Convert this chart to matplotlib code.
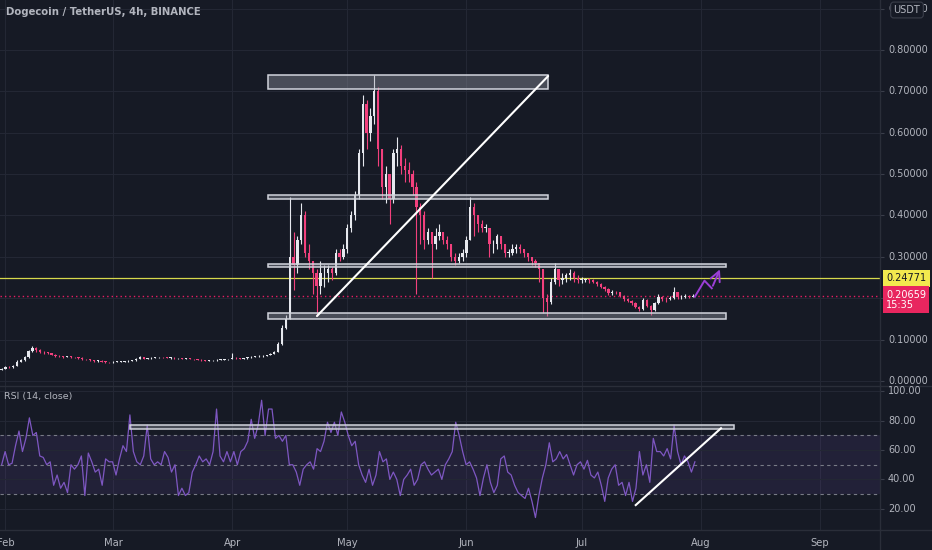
import datetime as dt
import numpy as np
import matplotlib
matplotlib.use("Agg")
import matplotlib.pyplot as plt
from matplotlib.patches import Rectangle
from matplotlib.lines import Line2D

# ---------------- data (daily candles, day 0 = 2021-02-01) ----------------
first_day = -1          # Jan 31
first_open = 0.027
close = [0.029,
    # Feb
    0.034, 0.033, 0.037, 0.047, 0.050, 0.057, 0.072, 0.080, 0.074, 0.071, 0.069, 0.067, 0.064, 0.061,
    0.060, 0.058, 0.059, 0.058, 0.057, 0.056, 0.053, 0.052, 0.050, 0.049, 0.049, 0.047, 0.046, 0.045,
    # Mar
    0.046, 0.046, 0.047, 0.048, 0.049, 0.050, 0.054, 0.057, 0.054, 0.055, 0.056, 0.057, 0.058, 0.057,
    0.056, 0.056, 0.055, 0.055, 0.054, 0.054, 0.053, 0.052, 0.051, 0.050, 0.049, 0.050, 0.050, 0.051,
    0.051, 0.052, 0.053,
    # Apr
    0.056, 0.055, 0.054, 0.055, 0.057, 0.059, 0.060, 0.060, 0.061, 0.063, 0.066, 0.071, 0.090, 0.128,
    0.150, 0.300, 0.280, 0.340, 0.400, 0.310, 0.290, 0.260, 0.230, 0.260, 0.260, 0.270, 0.260, 0.310,
    0.300, 0.320,
    # May
    0.370, 0.400, 0.450, 0.550, 0.670, 0.600, 0.640, 0.700, 0.560, 0.470, 0.500, 0.440, 0.550, 0.560,
    0.520, 0.510, 0.500, 0.470, 0.420, 0.400, 0.340, 0.360, 0.330, 0.350, 0.360, 0.340, 0.330, 0.300,
    0.290, 0.300, 0.310,
    # Jun
    0.340, 0.420, 0.400, 0.380, 0.370, 0.370, 0.330, 0.330, 0.350, 0.330, 0.310, 0.310, 0.320, 0.325,
    0.320, 0.310, 0.300, 0.290, 0.285, 0.270, 0.200, 0.190, 0.240, 0.270, 0.245, 0.250, 0.255, 0.260,
    0.250, 0.245,
    # Jul
    0.245, 0.245, 0.244, 0.240, 0.235, 0.228, 0.222, 0.212, 0.215, 0.214, 0.205, 0.198, 0.193, 0.188,
    0.180, 0.173, 0.195, 0.182, 0.172, 0.188, 0.204, 0.198, 0.197, 0.200, 0.215, 0.202, 0.204, 0.205,
    0.203, 0.20659]

high = [0.031,
    0.036, 0.036, 0.039, 0.050, 0.053, 0.060, 0.076, 0.085, 0.083, 0.077, 0.073, 0.071, 0.068, 0.065,
    0.063, 0.061, 0.061, 0.060, 0.059, 0.058, 0.057, 0.054, 0.053, 0.051, 0.051, 0.050, 0.048, 0.047,
    0.048, 0.048, 0.048, 0.049, 0.050, 0.051, 0.055, 0.060, 0.057, 0.056, 0.057, 0.058, 0.059, 0.059,
    0.058, 0.057, 0.057, 0.056, 0.056, 0.055, 0.055, 0.054, 0.053, 0.052, 0.051, 0.051, 0.051, 0.052,
    0.052, 0.053, 0.054,
    0.067, 0.058, 0.056, 0.056, 0.058, 0.060, 0.061, 0.062, 0.062, 0.064, 0.067, 0.073, 0.095, 0.135,
    0.160, 0.445, 0.360, 0.350, 0.430, 0.410, 0.330, 0.290, 0.270, 0.290, 0.280, 0.280, 0.275, 0.320,
    0.320, 0.330,
    0.380, 0.410, 0.460, 0.560, 0.690, 0.680, 0.660, 0.740, 0.710, 0.560, 0.520, 0.500, 0.560, 0.590,
    0.570, 0.540, 0.530, 0.510, 0.480, 0.430, 0.410, 0.370, 0.360, 0.370, 0.380, 0.360, 0.350, 0.330,
    0.310, 0.310, 0.320,
    0.350, 0.445, 0.430, 0.400, 0.390, 0.380, 0.370, 0.340, 0.355, 0.350, 0.330, 0.320, 0.330, 0.330,
    0.330, 0.320, 0.310, 0.300, 0.295, 0.285, 0.270, 0.210, 0.250, 0.285, 0.270, 0.260, 0.260, 0.270,
    0.265, 0.255,
    0.252, 0.250, 0.250, 0.247, 0.242, 0.237, 0.230, 0.224, 0.220, 0.218, 0.216, 0.207, 0.200, 0.195,
    0.190, 0.182, 0.200, 0.197, 0.184, 0.192, 0.210, 0.206, 0.202, 0.205, 0.228, 0.216, 0.208, 0.210,
    0.208, 0.210]

low = [0.026,
    0.028, 0.032, 0.032, 0.036, 0.045, 0.049, 0.056, 0.070, 0.070, 0.068, 0.066, 0.065, 0.062, 0.059,
    0.058, 0.056, 0.057, 0.056, 0.055, 0.054, 0.051, 0.050, 0.048, 0.047, 0.047, 0.046, 0.044, 0.043,
    0.044, 0.045, 0.045, 0.046, 0.047, 0.048, 0.049, 0.053, 0.052, 0.053, 0.054, 0.055, 0.056, 0.056,
    0.055, 0.054, 0.054, 0.053, 0.053, 0.052, 0.052, 0.051, 0.050, 0.049, 0.048, 0.048, 0.049, 0.049,
    0.050, 0.050, 0.051,
    0.052, 0.053, 0.052, 0.053, 0.054, 0.056, 0.058, 0.058, 0.059, 0.060, 0.062, 0.065, 0.070, 0.088,
    0.125, 0.150, 0.220, 0.260, 0.330, 0.300, 0.270, 0.210, 0.158, 0.210, 0.228, 0.240, 0.245, 0.255,
    0.290, 0.295,
    0.310, 0.360, 0.390, 0.440, 0.520, 0.560, 0.580, 0.620, 0.520, 0.440, 0.430, 0.380, 0.430, 0.520,
    0.500, 0.480, 0.480, 0.450, 0.210, 0.330, 0.320, 0.330, 0.250, 0.320, 0.340, 0.330, 0.320, 0.290,
    0.280, 0.285, 0.290,
    0.300, 0.340, 0.350, 0.360, 0.360, 0.360, 0.300, 0.310, 0.320, 0.320, 0.300, 0.300, 0.305, 0.310,
    0.310, 0.300, 0.290, 0.280, 0.275, 0.240, 0.165, 0.158, 0.185, 0.235, 0.230, 0.235, 0.240, 0.245,
    0.240, 0.238,
    0.238, 0.240, 0.238, 0.236, 0.230, 0.224, 0.218, 0.208, 0.208, 0.210, 0.202, 0.194, 0.190, 0.184,
    0.176, 0.170, 0.172, 0.178, 0.160, 0.170, 0.186, 0.194, 0.192, 0.195, 0.198, 0.198, 0.199, 0.200,
    0.200, 0.202]

# RSI(14) readings, evenly spread from Jan 31 to Jul 30
rsi = [50, 59, 50, 51, 63, 73, 59, 68, 82, 70, 72, 56, 55, 50, 52, 36, 43, 34, 38, 31, 50, 47, 50, 56,
       29, 58, 52, 45, 47, 36, 54, 52, 52, 43, 54, 63, 59, 84, 59, 52, 50, 56, 77, 54, 50, 52, 50, 59,
       55, 45, 50, 29, 34, 29, 31, 45, 50, 56, 52, 54, 50, 59, 88, 56, 52, 59, 52, 59, 50, 59, 61, 66,
       81, 68, 77, 94, 70, 88, 88, 68, 70, 66, 70, 50, 50, 45, 36, 47, 50, 52, 47, 61, 59, 66, 79, 72,
       79, 70, 86, 79, 70, 63, 66, 50, 43, 38, 47, 36, 43, 59, 52, 54, 40, 45, 40, 29, 40, 43, 47, 36,
       40, 50, 52, 47, 43, 45, 47, 40, 50, 54, 59, 79, 70, 59, 50, 52, 47, 41, 29, 41, 50, 38, 31, 36,
       54, 56, 45, 43, 36, 31, 29, 27, 34, 25, 14, 29, 41, 50, 65, 52, 54, 59, 54, 57, 50, 43, 50, 52,
       47, 53, 43, 41, 45, 36, 25, 41, 47, 50, 36, 38, 29, 38, 25, 34, 59, 43, 50, 38, 68, 59, 59, 56,
       61, 54, 77, 59, 50, 56, 52, 45, 52]
rsi_first_day = -1.0
rsi_last_day = 179.5

# Drawings (day, price) / (day, rsi)
price_zones = [(68.4, 141.3, 0.706, 0.740),
               (68.4, 141.3, 0.439, 0.449),
               (68.4, 187.5, 0.275, 0.283),
               (68.4, 187.5, 0.150, 0.1636)]
price_trend = ([81.1, 141.3], [0.157, 0.737])
projection = ([179.5, 182.0, 183.9, 186.3], [0.2038, 0.2425, 0.224, 0.276])
rsi_zone = (32.4, 189.7, 74.2, 76.9)
rsi_trend = ([164.1, 186.3], [22.5, 74.9])
yellow_level = 0.24771
last_price = 0.20659
countdown = "15:35"

price_ticks = [0.0, 0.1, 0.2, 0.3, 0.4, 0.5, 0.6, 0.7, 0.8, 0.9]
price_labels = [0.0, 0.1, 0.3, 0.4, 0.5, 0.6, 0.7, 0.8, 0.9]
rsi_ticks = [20, 40, 60, 80, 100]
month_labels = ["Feb", "Mar", "Apr", "May", "Jun", "Jul", "Aug", "Sep"]
month_dates = [dt.date(2021, m, 1) for m in range(2, 10)]

# ---------------- style ----------------
BG = '#161a25'
GRID = '#232734'
TXT = '#b2b5be'
UP = '#e6e8ee'
DOWN = '#f2407d'
plt.rcParams['font.family'] = ['DejaVu Sans']

W, H = 932, 550
fig = plt.figure(figsize=(W / 100, H / 100), dpi=100, facecolor=BG)

def fx(px): return px / W
def fy(py): return 1 - py / H

P_TOP, P_BOT = 0, 385      # price panel, pixel rows
R_TOP, R_BOT = 385, 530    # RSI panel, pixel rows
P_LIM = (-0.0097, 0.9208)
R_LIM = (5.5, 104.4)

ax1 = fig.add_axes([0, fy(P_BOT), fx(880), (P_BOT - P_TOP) / H], facecolor=BG)
ax2 = fig.add_axes([0, fy(R_BOT), fx(880), (R_BOT - R_TOP) / H], facecolor=BG)

base = dt.date(2021, 2, 1)
month_pos = [(d - base).days for d in month_dates]
XL = (-1.43, 227.7)

for ax in (ax1, ax2):
    ax.set_xlim(*XL)
    for s in ax.spines.values():
        s.set_visible(False)
    for m in month_pos:
        ax.axvline(m, color=GRID, lw=0.8, zorder=0)
    ax.yaxis.tick_right()
    ax.tick_params(axis='y', colors='#3a3e4a', length=3, labelright=False, labelleft=False)

ax1.set_ylim(*P_LIM)
ax2.set_ylim(*R_LIM)

label_queue = []

def right_label(v, lim, top, bot, s):
    py = bot - (v - lim[0]) / (lim[1] - lim[0]) * (bot - top)
    label_queue.append((py, s))

# price grid and labels
ax1.set_yticks(price_ticks)
for v in price_ticks:
    ax1.axhline(v, color=GRID, lw=0.8, zorder=0)
for v in price_labels:
    right_label(v, P_LIM, P_TOP, P_BOT, f"{v:.5f}")
ax1.set_xticks([])

# candles
days = np.arange(len(close)) + first_day
opens = [first_open] + close[:-1]
for d, o, c, h, l in zip(days, opens, close, high, low):
    col = UP if c >= o else DOWN
    ax1.vlines(d, l, h, color=col, lw=0.8, zorder=3)
    bot, top = min(o, c), max(o, c)
    ax1.bar(d, max(top - bot, 0.0015), bottom=bot, width=0.6, color=col, lw=0, zorder=3)

# zones
for x0, x1, y0, y1 in price_zones:
    ax1.add_patch(Rectangle((x0, y0), x1 - x0, y1 - y0, facecolor=(0.62, 0.63, 0.68, 0.38),
                            edgecolor='#d1d4dc', lw=1.1, zorder=4))
ax1.plot(*price_trend, color='white', lw=1.5, zorder=5, solid_capstyle='round')

# projection arrow
px, py = projection
ax1.plot(px[:-1], py[:-1], color='#9b3fd6', lw=1.4, zorder=5)
ax1.annotate('', xy=(px[-1], py[-1]), xytext=(px[-2], py[-2]),
             arrowprops=dict(arrowstyle='->,head_length=0.7,head_width=0.35', color='#9b3fd6', lw=1.4),
             zorder=5)

# level lines
ax1.axhline(yellow_level, color='#d6d94c', lw=0.9, zorder=2)
ax1.axhline(last_price, color='#e91e63', lw=1.0, ls=(0, (1, 2.2)), zorder=2)

# RSI panel
ax2.axhspan(30, 70, color='#7e57c2', alpha=0.12, lw=0, zorder=0)
for v in rsi_ticks:
    ax2.axhline(v, color=GRID, lw=0.8, zorder=0)
for v in (70, 50, 30):
    ax2.axhline(v, color='#787b86', lw=0.8, ls=(0, (3, 3)), zorder=1)
rsi_x = np.linspace(rsi_first_day, rsi_last_day, len(rsi))
ax2.plot(rsi_x, rsi, color='#7e57c2', lw=0.9, zorder=3)
x0, x1, y0, y1 = rsi_zone
ax2.add_patch(Rectangle((x0, y0), x1 - x0, y1 - y0, facecolor=(0.62, 0.63, 0.68, 0.38),
                        edgecolor='#d1d4dc', lw=1.1, zorder=4))
ax2.plot(*rsi_trend, color='white', lw=1.5, zorder=5)
ax2.set_yticks(rsi_ticks)
for v in rsi_ticks:
    right_label(v, R_LIM, R_TOP, R_BOT, f"{v:.2f}")
ax2.set_xticks(month_pos)
ax2.set_xticklabels(month_labels)
ax2.tick_params(axis='x', length=0, labelcolor=TXT, labelsize=7.2, pad=6)

# separators
fig.add_artist(Line2D([0, 1], [fy(385.5), fy(385.5)], color='#2a2e39', lw=1.0))
fig.add_artist(Line2D([0, 1], [fy(530), fy(530)], color='#2a2e39', lw=1.0))
fig.add_artist(Line2D([fx(880), fx(880)], [0, 1], color='#2a2e39', lw=1.0))

# texts
fig.text(fx(6), fy(12), "Dogecoin / TetherUS, 4h, BINANCE", color=TXT, fontsize=7.3,
         fontweight='semibold', va='center', ha='left')
fig.text(fx(4), fy(396), "RSI (14, close)", color=TXT, fontsize=6.8, va='center', ha='left')

# right-hand axis labels, drawn last and on top
for py_, s in label_queue:
    fig.text(fx(888), fy(py_), s, ha='left', va='center', fontsize=7.0, color=TXT, zorder=30)

# current-value labels on the price scale
y_yel = P_BOT - (yellow_level - P_LIM[0]) / (P_LIM[1] - P_LIM[0]) * (P_BOT - P_TOP)
y_last = P_BOT - (last_price - P_LIM[0]) / (P_LIM[1] - P_LIM[0]) * (P_BOT - P_TOP)
fig.text(fx(886), fy(y_yel), f"{yellow_level:.5f}", ha='left', va='center', fontsize=7.0,
         color='#131722', zorder=31,
         bbox=dict(boxstyle='square,pad=0.35', fc='#f2e94e', ec='none'))
fig.text(fx(886), fy(y_last - 6), f"{last_price:.5f}\n{countdown}", ha='left', va='top',
         fontsize=7.0, color='white', linespacing=1.05, zorder=31,
         bbox=dict(boxstyle='square,pad=0.35', fc='#e8265f', ec='none'))
fig.text(fx(907), fy(10), "USDT", color=TXT, fontsize=7.0, va='center', ha='center', zorder=32,
         bbox=dict(boxstyle='round,pad=0.3,rounding_size=0.3', fc=BG, ec='#3a3e4a', lw=0.8))

fig.savefig('out.png', dpi=100, facecolor=BG)
